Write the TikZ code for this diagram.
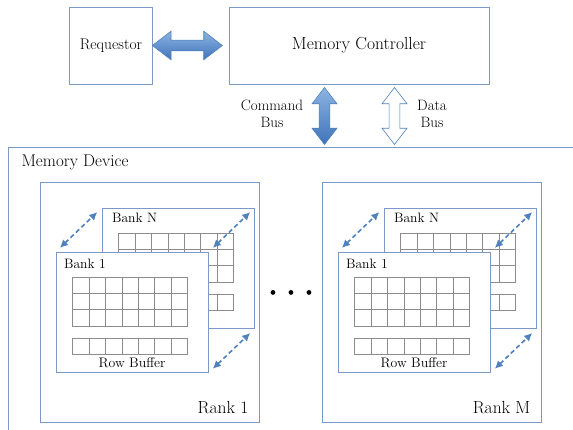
\documentclass[tikz,border=0pt]{standalone}
\usepackage{tikz}
\usetikzlibrary{shapes.arrows,arrows.meta,calc,positioning}

\definecolor{boxblue}{RGB}{122,153,201}
\definecolor{arrowblue}{RGB}{79,129,189}
\definecolor{lightblue}{RGB}{141,180,226}
\definecolor{darkblue}{RGB}{63,115,186}
\definecolor{cellgray}{RGB}{140,140,140}

\tikzset{
  box/.style={draw=boxblue, line width=0.9pt, fill=white, inner sep=0pt},
  bank/.style={box, anchor=north west, minimum width=152, minimum height=120},
  banklbl/.style={anchor=base west, font=\fontsize{13.6}{16}\selectfont},
  fatarrow/.style={double arrow, draw=arrowblue, line width=0.6pt, inner sep=5, double arrow tip angle=75},
  dasharrow/.style={draw=arrowblue, line width=1.6pt, dash pattern=on 4.5pt off 3pt,
    {Latex[length=8pt,width=8pt]}-{Latex[length=8pt,width=8pt]}, shorten <=6pt, shorten >=6pt},
  cell/.style={draw=cellgray, line width=0.6pt},
}

\begin{document}
\begin{tikzpicture}[x=1pt, y=-1pt]
  \useasboundingbox (0,0) rectangle (573,430);

  % Memory device (open at right and bottom)
  \begin{scope}
    \clip (0,0) rectangle (573,430);
    \node[box, anchor=north west, minimum width=600, minimum height=320] (dev) at (8,147) {};
  \end{scope}
  \node[anchor=base west, font=\fontsize{17}{20}\selectfont] (devlbl) at ($(dev.north west)+(10,20)$) {Memory Device};

  % Top row
  \node[box, minimum width=83.5, minimum height=77, font=\fontsize{15.5}{18}\selectfont] (req) at (111,45.5) {Requestor};
  \node[box, minimum width=260, minimum height=77, font=\fontsize{17.5}{20}\selectfont] (mc) at (359,45.5) {Memory Controller};
  \node[fatarrow, top color=lightblue, bottom color=darkblue, minimum height=70, minimum width=28,
    double arrow head extend=9] (reqbus) at ($(req.east)!0.5!(mc.west)+(-3.5,0)$) {};

  % Buses
  \node[fatarrow, shape border rotate=90, top color=lightblue, bottom color=darkblue,
    minimum height=57, minimum width=25, double arrow head extend=7] (cmd) at (324.5,116) {};
  \node[fatarrow, shape border rotate=90, fill=white,
    minimum height=57, minimum width=25, double arrow head extend=7] (dat) at (394.5,116) {};
  \node[align=center, font=\fontsize{15}{17}\selectfont] (cmdlbl) at (272,114) {Command\\Bus};
  \node[align=center, font=\fontsize{15}{17}\selectfont] (datlbl) at (432,114) {Data\\Bus};

  % Ranks
  \foreach \r/\x/\lbl in {r1/40/Rank 1, rM/322/Rank M} {
    \node[box, anchor=north west, minimum width=219, minimum height=240] (\r) at (\x,182) {};
    \node[anchor=base east, font=\fontsize{17.5}{20}\selectfont] (\r-lbl) at ($(\r.south east)+(-8,-9)$) {\lbl};
    % back bank
    \node[bank] (\r-bN) at ($(\r.north west)+(61.6,26)$) {};
    \node[banklbl] (\r-bNlbl) at ($(\r-bN.north west)+(7,15)$) {Bank N};
    \foreach \i in {0,...,6} {
      \foreach \j in {0,1,2}
        \draw[cell] ($(\r-bN.north west)+(17+16.4*\i,25+16.3*\j)$) rectangle +(16.4,16.3);
      \draw[cell] ($(\r-bN.north west)+(17+16.4*\i,86)$) rectangle +(16.4,16);
    }
    % front bank
    \node[bank] (\r-b1) at ($(\r.north west)+(15.6,70)$) {};
    \node[banklbl] (\r-b1lbl) at ($(\r-b1.north west)+(5,17)$) {Bank 1};
    \foreach \i in {0,...,6} {
      \foreach \j in {0,1,2}
        \draw[cell] ($(\r-b1.north west)+(17+16.4*\i,25+16.3*\j)$) rectangle +(16.4,16.3);
      \draw[cell] ($(\r-b1.north west)+(17+16.4*\i,86)$) rectangle +(16.4,16);
    }
    \node[anchor=base, font=\fontsize{13.8}{16}\selectfont] (\r-rb) at ($(\r-b1.north)+(0,115)$) {Row Buffer};
    % bank links
    \draw[dasharrow] (\r-b1.north west) -- (\r-bN.north west);
    \draw[dasharrow] (\r-b1.north east) -- (\r-bN.north east);
    \draw[dasharrow] (\r-b1.south east) -- (\r-bN.south east);
  }

  % Dots between ranks
  \foreach \dx in {-18,0,18}
    \fill ($(r1.east)!0.5!(rM.west)+(\dx,-10)$) circle (2.4);
\end{tikzpicture}
\end{document}
